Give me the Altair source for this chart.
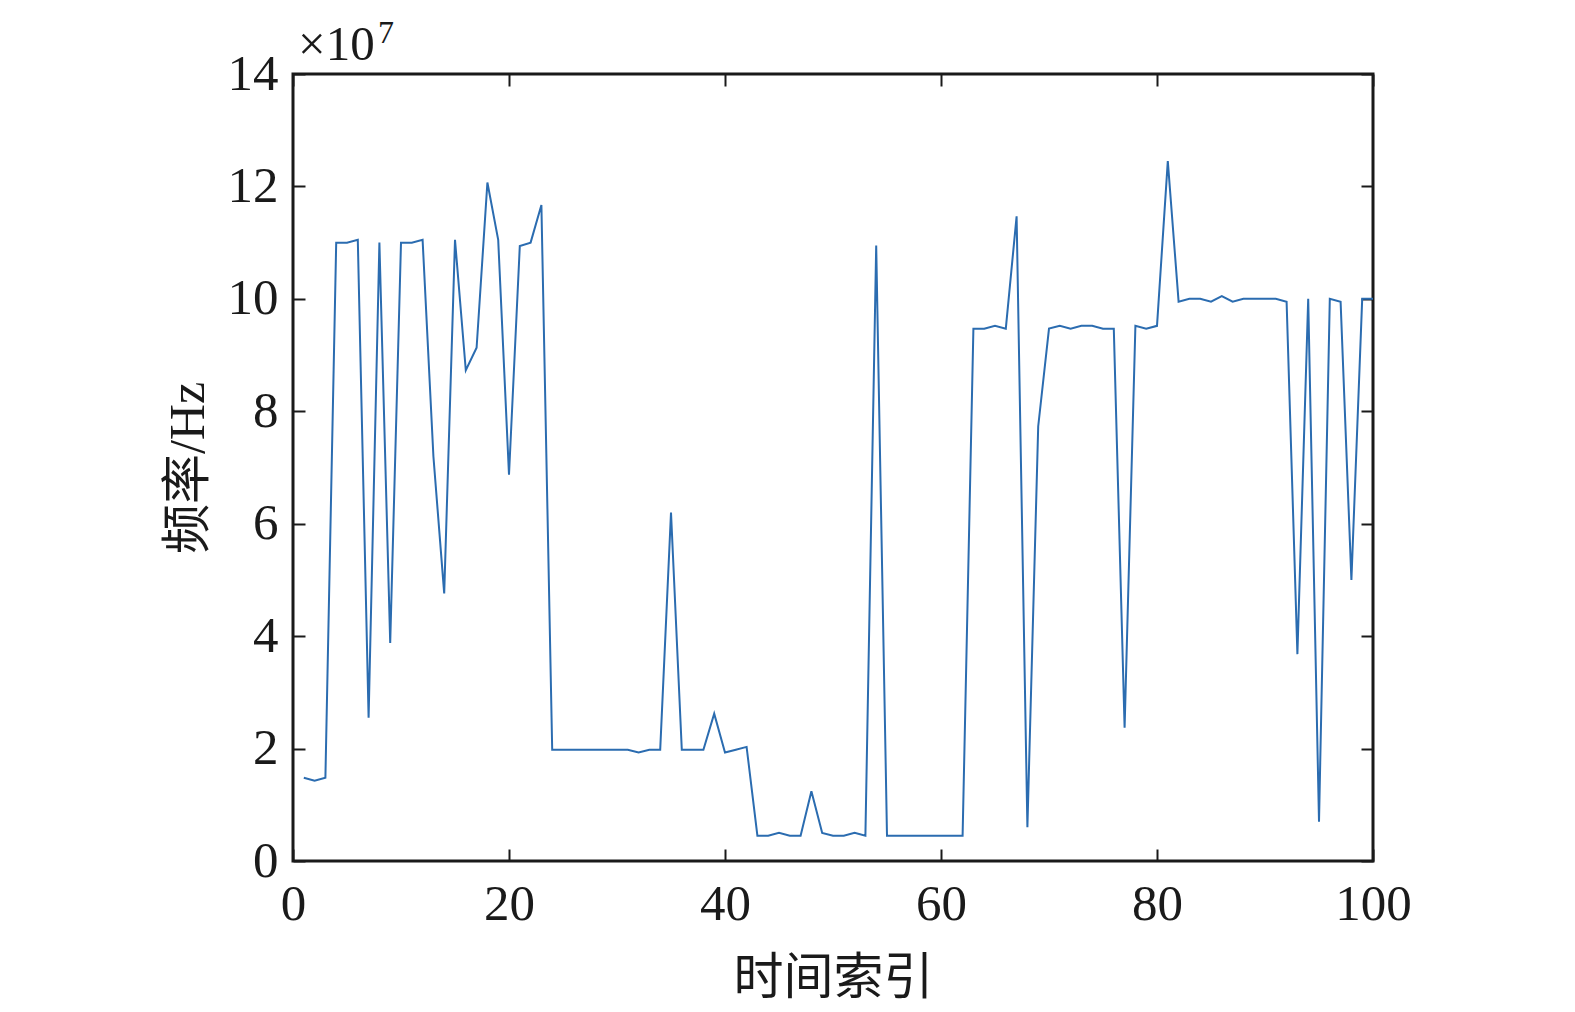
import altair as alt
import pandas as pd

# time index and frequency (in units of 1e7 Hz)
idx = list(range(1, 101))
freq = [
    1.48, 1.43, 1.48, 11.0, 11.0, 11.05, 2.55, 11.0, 3.88, 11.0,
    11.0, 11.05, 7.2, 4.76, 11.05, 8.73, 9.13, 12.07, 11.05, 6.87,
    10.94, 11.0, 11.67, 1.98, 1.98, 1.98, 1.98, 1.98, 1.98, 1.98,
    1.98, 1.93, 1.98, 1.98, 6.2, 1.98, 1.98, 1.98, 2.62, 1.93,
    1.98, 2.03, 0.45, 0.45, 0.5, 0.45, 0.45, 1.24, 0.5, 0.45,
    0.45, 0.5, 0.45, 10.95, 0.45, 0.45, 0.45, 0.45, 0.45, 0.45,
    0.45, 0.45, 9.47, 9.47, 9.52, 9.47, 11.47, 0.6, 7.73, 9.47,
    9.52, 9.47, 9.52, 9.52, 9.47, 9.47, 2.37, 9.52, 9.47, 9.52,
    12.45, 9.95, 10.0, 10.0, 9.95, 10.05, 9.95, 10.0, 10.0, 10.0,
    10.0, 9.95, 3.68, 10.0, 0.7, 10.0, 9.95, 5.0, 10.0, 10.0,
]
x_ticks = [0, 20, 40, 60, 80, 100]
y_ticks = [0, 2, 4, 6, 8, 10, 12, 14]
x_title = "时间索引"
y_title = "频率/Hz"
exp_base = "×10"
exp_power = "7"

df = pd.DataFrame({"t": idx, "f": freq})

LAT = "Liberation Serif"
MIX = "Liberation Serif, Noto Sans CJK SC"
TICK = 12

xs = alt.Scale(domain=[0, 100], nice=False, zero=False)
ys = alt.Scale(domain=[0, 14], nice=False, zero=False)

common_axis = dict(domain=False, grid=False, tickSize=TICK, offset=-TICK,
                   tickColor="#1a1a1a", tickWidth=2, labelColor="#1a1a1a",
                   titleColor="#1a1a1a", labelFlush=False)

line = alt.Chart(df).mark_line(color="#2b6cb0", strokeWidth=2).encode(
    x=alt.X("t:Q", scale=xs, axis=alt.Axis(
        orient="bottom", values=x_ticks, title=x_title, labelFont=LAT,
        labelFontSize=51, labelPadding=18, titleFont=MIX, titleFontSize=50,
        titleFontWeight="normal", titlePadding=24, **common_axis)),
    y=alt.Y("f:Q", scale=ys, axis=alt.Axis(
        orient="left", values=y_ticks, title=y_title, labelFont=LAT,
        labelFontSize=51, labelPadding=15, titleFont=MIX, titleFontSize=50,
        titleFontWeight="normal", titlePadding=14, **common_axis)),
)

frame_axes = alt.Chart(df).mark_line(opacity=0).encode(
    x=alt.X("t:Q", scale=xs, axis=alt.Axis(
        orient="top", values=x_ticks, labels=False, title=None, **common_axis)),
    y=alt.Y("f:Q", scale=ys, axis=alt.Axis(
        orient="right", values=y_ticks, labels=False, title=None, **common_axis)),
)

base_txt = alt.Chart(pd.DataFrame({"s": [exp_base]})).mark_text(
    font=LAT, fontSize=49, align="left", baseline="alphabetic",
    dx=5, dy=-14, color="#1a1a1a"
).encode(
    x=alt.datum(0, scale=xs, axis=None),
    y=alt.datum(14, scale=ys, axis=None),
    text="s:N",
)

pow_txt = alt.Chart(pd.DataFrame({"s": [exp_power]})).mark_text(
    font=LAT, fontSize=32, align="left", baseline="alphabetic",
    dx=85, dy=-31, color="#1a1a1a"
).encode(
    x=alt.datum(0, scale=xs, axis=None),
    y=alt.datum(14, scale=ys, axis=None),
    text="s:N",
)

chart = alt.layer(line, frame_axes, base_txt, pow_txt).resolve_axis(
    x="independent", y="independent"
).properties(
    width=1080, height=787,
    autosize=alt.AutoSizeParams(type="none"),
    padding={"left": 285, "top": 66, "right": 180, "bottom": 148},
    background="white",
).configure_view(
    stroke="#1a1a1a", strokeWidth=3
)

chart.save("out.html", embed_options={"renderer": "svg", "actions": False})
